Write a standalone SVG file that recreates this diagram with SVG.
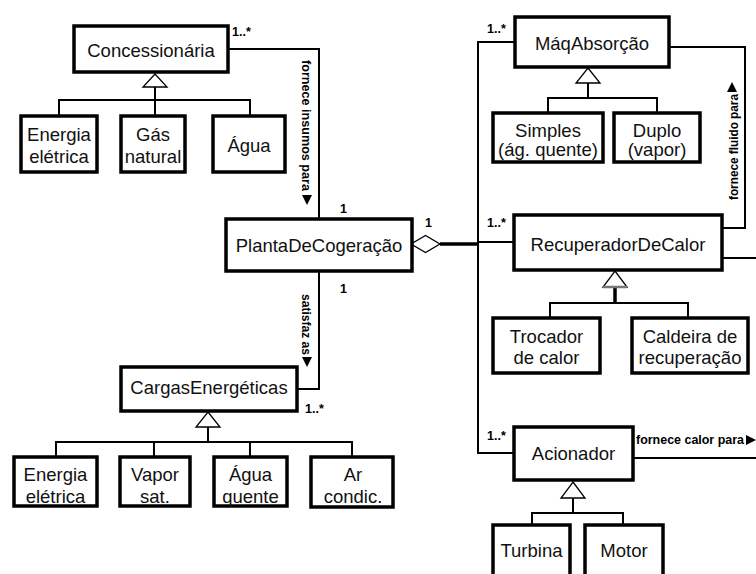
<svg xmlns="http://www.w3.org/2000/svg" width="756" height="574" viewBox="0 0 756 574">
<style>
.box{fill:#fff;stroke:#000;stroke-width:3.5}
.t{font-family:"Liberation Sans",Arial,sans-serif;font-size:18.5px;fill:#111;text-anchor:middle}
.s{font-family:"Liberation Sans",Arial,sans-serif;font-size:12.5px;font-weight:bold;fill:#000}
.v{font-family:"Liberation Sans",Arial,sans-serif;font-size:13.5px;font-weight:bold;fill:#000}
.ln{fill:none;stroke:#000;stroke-width:2}
.tri{fill:#fff;stroke:#000;stroke-width:1.3}
.ah{fill:#000}
</style>
<rect width="756" height="574" fill="#fff"/>
<g id="connectors">
  <polyline class="ln" points="228,49 319,49 319,219"/>
  <polyline class="ln" points="319,271 319,389 297,389"/>
  <line x1="440" y1="244" x2="478" y2="244" stroke="#000" stroke-width="3.5"/>
  <polygon points="411,244 425.5,235.5 440,244 425.5,252.5" fill="#fff" stroke="#000" stroke-width="1.3"/>
  <line class="ln" x1="478" y1="41" x2="478" y2="454"/>
  <line class="ln" x1="477" y1="42" x2="515" y2="42"/>
  <line class="ln" x1="477" y1="242" x2="514" y2="242"/>
  <line class="ln" x1="477" y1="453" x2="514" y2="453"/>
  <polyline class="ln" points="669,47 745,47 745,228 722,228"/>
  <line class="ln" x1="722" y1="258" x2="756" y2="258"/>
  <line class="ln" x1="633" y1="458" x2="756" y2="458"/>
  <polyline class="ln" points="59,116 59,100 250,100 250,116"/>
  <line class="ln" x1="155" y1="87" x2="155" y2="116"/>
  <polygon class="tri" points="155,74 167,87 143,87"/>
  <polyline class="ln" points="548,113 548,98 657,98 657,113"/>
  <line class="ln" x1="588" y1="83" x2="588" y2="98"/>
  <polygon class="tri" points="588,68 600,83 576,83"/>
  <polyline class="ln" points="550,318 550,303 688,303 688,318"/>
  <line x1="615" y1="287" x2="615" y2="303" stroke="#000" stroke-width="3.5"/>
  <polygon class="tri" points="615,271 627,287 603,287"/>
  <line x1="603" y1="287" x2="627" y2="287" stroke="#777" stroke-width="2.5"/>
  <polyline class="ln" points="532,525 532,513 623,513 623,525"/>
  <line class="ln" x1="573" y1="498" x2="573" y2="513"/>
  <polygon class="tri" points="573,482 585,498 561,498"/>
  <polyline class="ln" points="56,457 56,442 352,442 352,457"/>
  <line class="ln" x1="154" y1="442" x2="154" y2="457"/>
  <line class="ln" x1="250" y1="442" x2="250" y2="457"/>
  <line class="ln" x1="208" y1="427" x2="208" y2="442"/>
  <polygon class="tri" points="208,412 220,427 196,427"/>
  <text class="s" x="232" y="36">1..*</text>
  <text class="s" x="340" y="213">1</text>
  <text class="s" x="425" y="227">1</text>
  <text class="s" x="340" y="293">1</text>
  <text class="s" x="487" y="227">1..*</text>
  <text class="s" x="487" y="33">1..*</text>
  <text class="s" x="487" y="440">1..*</text>
  <text class="s" x="305" y="413">1..*</text>
  <text class="v" transform="translate(302,60) rotate(90)" textLength="131" lengthAdjust="spacingAndGlyphs">fornece insumos para</text>
  <polygon class="ah" points="302,195 312,195 307,205"/>
  <text class="v" transform="translate(302,294) rotate(90)" textLength="61" lengthAdjust="spacingAndGlyphs">satisfaz as</text>
  <polygon class="ah" points="302,357 312,357 307,367"/>
  <text class="v" transform="translate(738,200) rotate(-90)" textLength="106" lengthAdjust="spacingAndGlyphs">fornece fluido para</text>
  <polygon class="ah" points="727,92 737,92 732,82"/>
  <text class="v" x="636" y="444" textLength="108" lengthAdjust="spacingAndGlyphs">fornece calor para</text>
  <polygon class="ah" points="746,435 746,445 756,440"/>
</g>
<g id="concessionaria"><rect class="box" x="74" y="26" width="154" height="46"/><text class="t" x="151" y="57">Concessionária</text></g>
<g id="energia1"><rect class="box" x="21" y="116" width="76" height="56"/><text class="t" x="59" y="141">Energia</text><text class="t" x="59" y="163">elétrica</text></g>
<g id="gas"><rect class="box" x="121" y="116" width="64" height="56"/><text class="t" x="153" y="141">Gás</text><text class="t" x="153" y="163">natural</text></g>
<g id="agua1"><rect class="box" x="213" y="116" width="72" height="56"/><text class="t" x="249" y="152">Água</text></g>
<g id="planta"><rect class="box" x="226" y="219" width="186" height="52"/><text class="t" x="319" y="252">PlantaDeCogeração</text></g>
<g id="cargas"><rect class="box" x="121" y="367" width="176" height="44"/><text class="t" x="209" y="394">CargasEnergéticas</text></g>
<g id="energia2"><rect class="box" x="14" y="457" width="83" height="49"/><text class="t" x="55.5" y="481">Energia</text><text class="t" x="55.5" y="503">elétrica</text></g>
<g id="vapor"><rect class="box" x="120" y="457" width="70" height="49"/><text class="t" x="155" y="481">Vapor</text><text class="t" x="155" y="503">sat.</text></g>
<g id="agua2"><rect class="box" x="214" y="457" width="73" height="49"/><text class="t" x="250.5" y="481">Água</text><text class="t" x="250.5" y="503">quente</text></g>
<g id="ar"><rect class="box" x="311" y="457" width="82" height="50"/><text class="t" x="353" y="481">Ar</text><text class="t" x="353" y="503">condic.</text></g>
<g id="maq"><rect class="box" x="515" y="17" width="154" height="50"/><text class="t" x="592" y="50">MáqAbsorção</text></g>
<g id="simples"><rect class="box" x="493" y="113" width="110" height="49"/><text class="t" x="548" y="137">Simples</text><text class="t" x="548" y="156">(ág. quente)</text></g>
<g id="duplo"><rect class="box" x="614" y="113" width="86" height="49"/><text class="t" x="657" y="137">Duplo</text><text class="t" x="657" y="156">(vapor)</text></g>
<g id="recuperador"><rect class="box" x="514" y="215" width="208" height="55"/><text class="t" x="618" y="251">RecuperadorDeCalor</text></g>
<g id="trocador"><rect class="box" x="493" y="318" width="107" height="55"/><text class="t" x="546.5" y="343">Trocador</text><text class="t" x="546.5" y="364">de calor</text></g>
<g id="caldeira"><rect class="box" x="632" y="318" width="116" height="55"/><text class="t" x="690" y="343">Caldeira de</text><text class="t" x="690" y="364">recuperação</text></g>
<g id="acionador"><rect class="box" x="514" y="427" width="119" height="53"/><text class="t" x="573.5" y="460">Acionador</text></g>
<g id="turbina"><rect class="box" x="493" y="525" width="77" height="60"/><text class="t" x="531.5" y="557">Turbina</text></g>
<g id="motor"><rect class="box" x="585" y="525" width="78" height="60"/><text class="t" x="624" y="557">Motor</text></g>
</svg>
